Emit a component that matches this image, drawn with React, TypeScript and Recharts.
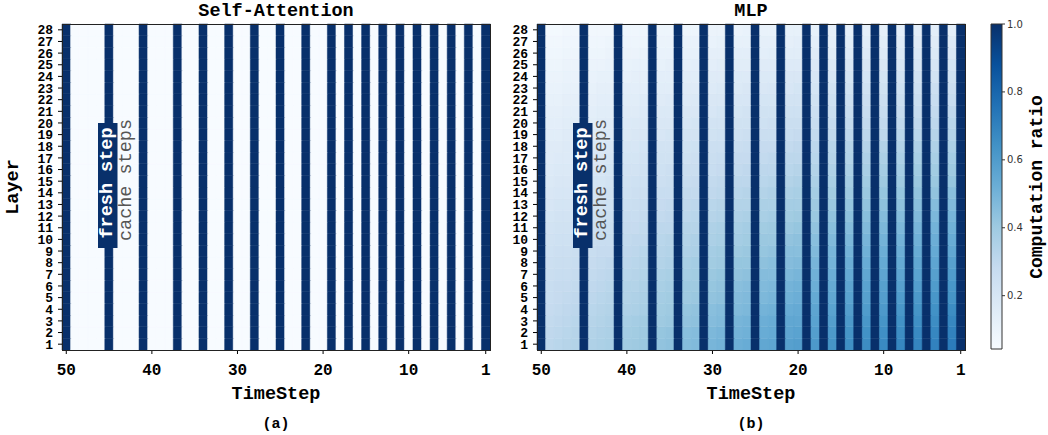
import React from "react";
import { BarChart, Bar, XAxis, YAxis, Cell } from "recharts";

// ---- data ----
const timeSteps = [
  50, 49, 48, 47, 46, 45, 44, 43, 42, 41, 40, 39, 38, 37, 36, 35, 34, 33, 32, 31, 30, 29, 28, 27, 26,
  25, 24, 23, 22, 21, 20, 19, 18, 17, 16, 15, 14, 13, 12, 11, 10, 9, 8, 7, 6, 5, 4, 3, 2, 1,
];
const layers = [1, 2, 3, 4, 5, 6, 7, 8, 9, 10, 11, 12, 13, 14, 15, 16, 17, 18, 19, 20, 21, 22, 23, 24, 25, 26, 27, 28];
const freshSteps = [50, 45, 41, 37, 34, 31, 28, 25, 22, 19, 17, 15, 13, 11, 9, 7, 5, 3, 1];
const cacheSteps = [49, 48, 47, 46, 44, 43, 42, 40, 39, 38, 36, 35, 33, 32, 30, 29, 27, 26, 24, 23, 21, 20, 18, 16, 14, 12, 10, 8, 6, 4, 2];
const xTickLabels = [50, 40, 30, 20, 10, 1];
const colorbarTicks = [0.2, 0.4, 0.6, 0.8, 1.0];
const colorMin = 0.043;
const colorMax = 1.0;
const freshRatio = 1.0;

// self-attention: cache steps compute (almost) nothing
const attnCacheRatio = [
  0.04, 0.04, 0.04, 0.04, 0.04, 0.04, 0.04, 0.04, 0.04, 0.04, 0.04, 0.04, 0.04, 0.04,
  0.04, 0.04, 0.04, 0.04, 0.04, 0.04, 0.04, 0.04, 0.04, 0.04, 0.04, 0.04, 0.04, 0.04,
];

// MLP: computation ratio (%) on cache steps, one row per layer (1 -> 28), columns follow cacheSteps
const mlpCachePct = [
  [31, 32, 33, 34, 35, 36, 37, 39, 40, 41, 43, 44, 46, 47, 49, 50, 52, 53, 55, 56, 58, 59, 61, 63, 65, 66, 67, 68, 69, 70, 72],
  [30, 31, 32, 33, 34, 35, 36, 38, 39, 40, 42, 43, 45, 46, 48, 49, 50, 51, 53, 54, 56, 57, 59, 61, 63, 64, 65, 66, 67, 68, 70],
  [29, 30, 31, 32, 33, 34, 35, 37, 38, 39, 40, 41, 43, 44, 46, 47, 49, 50, 52, 53, 55, 55, 57, 59, 61, 62, 63, 64, 65, 66, 68],
  [28, 29, 30, 31, 32, 33, 34, 35, 36, 37, 39, 40, 42, 43, 45, 46, 47, 48, 50, 51, 53, 54, 56, 57, 59, 60, 61, 62, 63, 64, 66],
  [27, 28, 29, 30, 31, 32, 33, 34, 35, 36, 38, 39, 40, 41, 43, 44, 46, 47, 48, 49, 51, 52, 54, 55, 57, 58, 59, 60, 61, 62, 63],
  [27, 28, 28, 29, 30, 31, 32, 34, 34, 35, 37, 38, 40, 40, 42, 43, 45, 46, 47, 48, 50, 51, 52, 54, 56, 57, 58, 58, 59, 60, 62],
  [26, 27, 27, 28, 29, 30, 31, 32, 33, 34, 36, 37, 38, 39, 41, 42, 43, 44, 46, 46, 48, 49, 51, 52, 54, 55, 56, 56, 57, 58, 60],
  [25, 26, 26, 27, 28, 29, 30, 31, 32, 33, 34, 35, 37, 38, 39, 40, 42, 42, 44, 45, 46, 47, 49, 50, 52, 53, 54, 54, 55, 56, 58],
  [24, 25, 25, 26, 27, 28, 28, 30, 31, 32, 33, 34, 35, 36, 38, 39, 40, 41, 42, 43, 45, 45, 47, 49, 50, 51, 52, 52, 53, 54, 55],
  [23, 24, 24, 25, 26, 27, 27, 29, 30, 30, 32, 33, 34, 35, 36, 37, 38, 39, 41, 41, 43, 44, 45, 47, 48, 49, 50, 50, 51, 52, 53],
  [22, 23, 23, 24, 25, 26, 26, 28, 28, 29, 31, 31, 33, 33, 35, 36, 37, 38, 39, 40, 41, 42, 43, 45, 46, 47, 48, 48, 49, 50, 51],
  [21, 22, 22, 23, 24, 24, 25, 27, 27, 28, 29, 30, 31, 32, 33, 34, 35, 36, 37, 38, 39, 40, 41, 43, 44, 45, 46, 46, 47, 48, 49],
  [20, 21, 21, 22, 23, 23, 24, 25, 26, 27, 28, 29, 30, 31, 32, 33, 34, 34, 36, 36, 38, 38, 40, 41, 42, 43, 44, 44, 45, 46, 47],
  [19, 20, 20, 21, 22, 22, 23, 24, 25, 25, 27, 27, 29, 29, 30, 31, 32, 33, 34, 35, 36, 37, 38, 39, 40, 41, 42, 42, 43, 43, 45],
  [18, 19, 19, 20, 21, 21, 22, 23, 24, 24, 25, 26, 27, 28, 29, 30, 31, 31, 32, 33, 34, 35, 36, 37, 38, 39, 40, 40, 41, 41, 42],
  [17, 18, 18, 19, 20, 20, 21, 22, 22, 23, 24, 25, 26, 26, 27, 28, 29, 30, 31, 31, 32, 33, 34, 35, 36, 37, 38, 38, 39, 39, 40],
  [16, 17, 17, 18, 19, 19, 20, 21, 21, 22, 23, 23, 24, 25, 26, 27, 28, 28, 29, 30, 31, 31, 32, 33, 34, 35, 36, 36, 37, 37, 38],
  [16, 16, 17, 17, 18, 18, 19, 20, 20, 21, 22, 22, 23, 24, 25, 25, 26, 27, 28, 28, 29, 30, 31, 32, 33, 33, 34, 34, 35, 35, 36],
  [15, 15, 16, 16, 16, 17, 17, 18, 19, 19, 20, 21, 22, 22, 23, 24, 24, 25, 26, 26, 27, 28, 29, 30, 31, 31, 31, 32, 32, 33, 34],
  [14, 14, 15, 15, 15, 16, 16, 17, 18, 18, 19, 19, 20, 21, 22, 22, 23, 23, 24, 25, 26, 26, 27, 28, 29, 29, 29, 30, 30, 31, 32],
  [13, 13, 14, 14, 14, 15, 15, 16, 16, 17, 18, 18, 19, 19, 20, 21, 21, 22, 23, 23, 24, 24, 25, 26, 27, 27, 27, 28, 28, 29, 30],
  [12, 12, 13, 13, 13, 14, 14, 15, 15, 16, 16, 17, 17, 18, 19, 19, 20, 20, 21, 21, 22, 22, 23, 24, 25, 25, 25, 26, 26, 27, 27],
  [11, 11, 12, 12, 12, 13, 13, 14, 14, 14, 15, 15, 16, 16, 17, 18, 18, 19, 19, 20, 20, 21, 21, 22, 23, 23, 23, 24, 24, 25, 25],
  [10, 10, 11, 11, 11, 12, 12, 12, 13, 13, 14, 14, 15, 15, 16, 16, 17, 17, 18, 18, 19, 19, 20, 20, 21, 21, 21, 22, 22, 22, 23],
  [9, 9, 10, 10, 10, 10, 11, 11, 12, 12, 12, 13, 13, 14, 14, 15, 15, 15, 16, 16, 17, 17, 18, 18, 19, 19, 19, 20, 20, 20, 21],
  [8, 8, 9, 9, 9, 9, 10, 10, 10, 11, 11, 11, 12, 12, 13, 13, 14, 14, 14, 15, 15, 15, 16, 16, 17, 17, 17, 18, 18, 18, 19],
  [7, 7, 8, 8, 8, 8, 9, 9, 9, 9, 10, 10, 11, 11, 11, 12, 12, 12, 13, 13, 13, 14, 14, 14, 15, 15, 15, 16, 16, 16, 17],
  [6, 6, 7, 7, 7, 7, 7, 8, 8, 8, 9, 9, 9, 9, 10, 10, 10, 11, 11, 11, 12, 12, 12, 13, 13, 13, 13, 14, 14, 14, 14],
];

// ---- styling ----
const MONO = "'Liberation Mono', 'DejaVu Sans Mono', monospace";
const BLUES = ["#f7fbff", "#deebf7", "#c6dbef", "#9ecae1", "#6baed6", "#4292c6", "#2171b5", "#08519c", "#08306b"];

const hexToRgb = (h: string) => [1, 3, 5].map((i) => parseInt(h.slice(i, i + 2), 16));

function blues(v: number) {
  const n = Math.min(1, Math.max(0, (v - colorMin) / (colorMax - colorMin)));
  const p = n * (BLUES.length - 1);
  const i = Math.min(BLUES.length - 2, Math.floor(p));
  const f = p - i;
  const a = hexToRgb(BLUES[i]);
  const b = hexToRgb(BLUES[i + 1]);
  const c = a.map((x, k) => Math.round(x + (b[k] - x) * f));
  return `rgb(${c[0]},${c[1]},${c[2]})`;
}

const attnValue = (t: number, layer: number) =>
  freshSteps.includes(t) ? freshRatio : attnCacheRatio[layer - 1];

const mlpValue = (t: number, layer: number) =>
  freshSteps.includes(t) ? freshRatio : mlpCachePct[layer - 1][cacheSteps.indexOf(t)] / 100;

// chart geometry (plot area of the left panel is x 62..490, y 24..350)
const CHART_W = 520;
const CHART_H = 435;
const MARGIN = { top: 24, right: 30, bottom: 55, left: 22 };
const PLOT_X = 62;
const PLOT_Y = 24;
const PLOT_W = CHART_W - MARGIN.left - 40 - MARGIN.right;
const PLOT_H = CHART_H - MARGIN.top - MARGIN.bottom - 30;
const PANEL_B = 475;

const TICK_SIZE = 4;
const TICK_MARGIN = 4;

const TimeTick = (props: any) => {
  const { x, y, payload } = props;
  if (!xTickLabels.includes(payload.value)) return null;
  const axisY = y - TICK_SIZE - TICK_MARGIN;
  return (
    <g>
      <line x1={x} x2={x} y1={axisY} y2={axisY + TICK_SIZE} stroke="#000" />
      <text x={x} y={axisY + 25} textAnchor="middle" fontFamily={MONO} fontWeight={700} fontSize={16} fill="#000">
        {payload.value}
      </text>
    </g>
  );
};

function Heatmap({ left, valueAt }: { left: number; valueAt: (t: number, l: number) => number }) {
  const data = timeSteps.map((t) => {
    const row: Record<string, number> = { t };
    layers.forEach((l) => {
      row[`l${l}`] = 1;
    });
    return row;
  });

  return (
    <div style={{ position: "absolute", left, top: 0 }}>
      <BarChart width={CHART_W} height={CHART_H} data={data} margin={MARGIN} barCategoryGap={0} barGap={0}>
        <XAxis
          dataKey="t"
          interval={0}
          height={30}
          tick={TimeTick}
          tickSize={TICK_SIZE}
          tickMargin={TICK_MARGIN}
          tickLine={false}
          axisLine={false}
        />
        <YAxis
          type="number"
          width={40}
          domain={[0, layers.length]}
          ticks={layers.map((l) => l - 0.5)}
          tickFormatter={(v: number) => String(v + 0.5)}
          interval={0}
          tickSize={4}
          tickMargin={5}
          axisLine={false}
          tickLine={{ stroke: "#000" }}
          tick={{ fontSize: 13, fontFamily: MONO, fontWeight: 700, fill: "#000" }}
        />
        {layers.map((l) => (
          <Bar key={l} dataKey={`l${l}`} stackId="cells" isAnimationActive={false}>
            {timeSteps.map((t) => {
              const c = blues(valueAt(t, l));
              return <Cell key={t} fill={c} stroke={c} strokeWidth={0.5} />;
            })}
          </Bar>
        ))}
      </BarChart>
    </div>
  );
}

function Colorbar() {
  const data = [{ name: "cb", range: [colorMin, colorMax] }];
  return (
    <div style={{ position: "absolute", left: 960, top: 0 }}>
      <BarChart width={88} height={CHART_H} data={data} margin={{ top: 24, right: 0, bottom: 86, left: 31 }} barCategoryGap={0}>
        <defs>
          <linearGradient id="cbBlues" x1="0" y1="1" x2="0" y2="0">
            {BLUES.map((c, i) => (
              <stop key={c} offset={i / (BLUES.length - 1)} stopColor={c} />
            ))}
          </linearGradient>
        </defs>
        <XAxis dataKey="name" hide />
        <YAxis
          orientation="right"
          type="number"
          width={46}
          domain={[colorMin, colorMax]}
          ticks={colorbarTicks}
          tickFormatter={(v: number) => v.toFixed(1)}
          tickSize={3}
          tickMargin={2}
          axisLine={false}
          tickLine={{ stroke: "#333" }}
          tick={{ fontSize: 10, fontFamily: "'DejaVu Sans', sans-serif", fill: "#333" }}
        />
        <Bar dataKey="range" fill="url(#cbBlues)" stroke="#333" strokeWidth={1} isAnimationActive={false} />
      </BarChart>
    </div>
  );
}

function Annotation({ dx }: { dx: number }) {
  return (
    <g>
      <rect x={98 + dx} y={123} width={19.5} height={125} fill="#08306b" />
      <text
        x={0}
        y={0}
        transform={`translate(${107.8 + dx},183) rotate(-90)`}
        textAnchor="middle"
        dominantBaseline="central"
        fontFamily={MONO}
        fontWeight={700}
        fontSize={18.5}
        fill="#fff"
      >
        fresh step
      </text>
      <text
        x={0}
        y={0}
        transform={`translate(${126.5 + dx},180) rotate(-90)`}
        textAnchor="middle"
        dominantBaseline="central"
        fontFamily={MONO}
        fontSize={18.5}
        fill="#555"
      >
        cache steps
      </text>
    </g>
  );
}

function Overlay() {
  const cxA = PLOT_X + PLOT_W / 2;
  const cxB = cxA + PANEL_B;
  const bold = { fontFamily: MONO, fontWeight: 700, fill: "#000" } as const;
  return (
    <svg width={1048} height={435} style={{ position: "absolute", left: 0, top: 0, pointerEvents: "none" }}>
      <rect x={PLOT_X + 0.5} y={PLOT_Y + 0.5} width={PLOT_W} height={PLOT_H} fill="none" stroke="#222" />
      <rect x={PLOT_X + PANEL_B + 0.5} y={PLOT_Y + 0.5} width={PLOT_W} height={PLOT_H} fill="none" stroke="#222" />
      <Annotation dx={0} />
      <Annotation dx={PANEL_B} />
      <text x={cxA} y={16} textAnchor="middle" fontSize={18.5} {...bold}>Self-Attention</text>
      <text x={cxB} y={16} textAnchor="middle" fontSize={18.5} {...bold}>MLP</text>
      <text x={cxA} y={399} textAnchor="middle" fontSize={18.5} {...bold}>TimeStep</text>
      <text x={cxB} y={399} textAnchor="middle" fontSize={18.5} {...bold}>TimeStep</text>
      <text x={cxA} y={428} textAnchor="middle" fontSize={15} {...bold}>(a)</text>
      <text x={cxB} y={428} textAnchor="middle" fontSize={15} {...bold}>(b)</text>
      <text
        x={0}
        y={0}
        transform={`translate(13,${PLOT_Y + PLOT_H / 2}) rotate(-90)`}
        textAnchor="middle"
        dominantBaseline="central"
        fontSize={18.5}
        {...bold}
      >
        Layer
      </text>
      <text
        x={0}
        y={0}
        transform={`translate(1037,${PLOT_Y + PLOT_H / 2}) rotate(-90)`}
        textAnchor="middle"
        dominantBaseline="central"
        fontSize={18}
        {...bold}
      >
        Computation ratio
      </text>
    </svg>
  );
}

export default function App() {
  return (
    <div style={{ position: "absolute", left: 0, top: 0, width: 1048, height: 435, background: "#fff", overflow: "hidden" }}>
      <Heatmap left={0} valueAt={attnValue} />
      <Heatmap left={PANEL_B} valueAt={mlpValue} />
      <Colorbar />
      <Overlay />
    </div>
  );
}
